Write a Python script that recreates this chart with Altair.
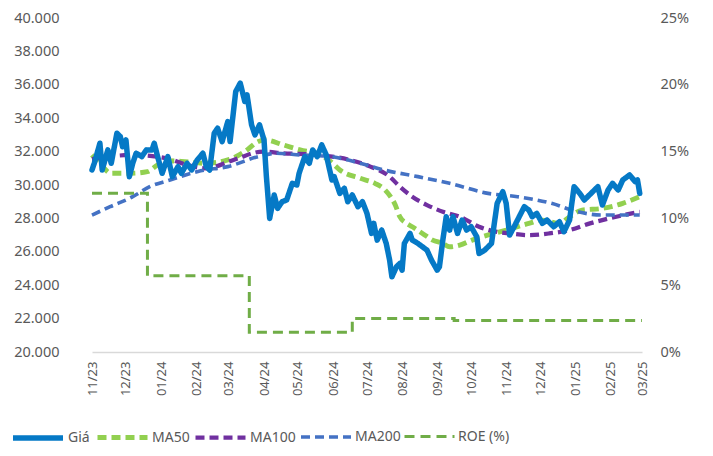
import altair as alt
import pandas as pd

# ---------------- data ----------------
price_dates = [
    "2023-11-01", "2023-11-03", "2023-11-08", "2023-11-10", "2023-11-15", "2023-11-18",
    "2023-11-23", "2023-11-26", "2023-11-28", "2023-12-01", "2023-12-04", "2023-12-07",
    "2023-12-10", "2023-12-15", "2023-12-19", "2023-12-24", "2023-12-26", "2023-12-29",
    "2024-01-02", "2024-01-07", "2024-01-11", "2024-01-16", "2024-01-19", "2024-01-24",
    "2024-01-28", "2024-02-02", "2024-02-07", "2024-02-10", "2024-02-13", "2024-02-17",
    "2024-02-20", "2024-02-24", "2024-02-29", "2024-03-02", "2024-03-07", "2024-03-11",
    "2024-03-15", "2024-03-17", "2024-03-21", "2024-03-24", "2024-03-28", "2024-04-01",
    "2024-04-03", "2024-04-06", "2024-04-10", "2024-04-13", "2024-04-17", "2024-04-21",
    "2024-04-26", "2024-04-30", "2024-05-02", "2024-05-07", "2024-05-11", "2024-05-14",
    "2024-05-18", "2024-05-22", "2024-05-26", "2024-05-31", "2024-06-02", "2024-06-07",
    "2024-06-11", "2024-06-14", "2024-06-18", "2024-06-23", "2024-06-27", "2024-07-01",
    "2024-07-05", "2024-07-07", "2024-07-10", "2024-07-14", "2024-07-18", "2024-07-21",
    "2024-07-23", "2024-07-27", "2024-07-30", "2024-08-01", "2024-08-03", "2024-08-08",
    "2024-08-10", "2024-08-15", "2024-08-19", "2024-08-23", "2024-08-27", "2024-09-01",
    "2024-09-03", "2024-09-06", "2024-09-09", "2024-09-12", "2024-09-15", "2024-09-19",
    "2024-09-23", "2024-09-27", "2024-10-01", "2024-10-06", "2024-10-08", "2024-10-13",
    "2024-10-19", "2024-10-24", "2024-10-29", "2024-11-01", "2024-11-04", "2024-11-08",
    "2024-11-11", "2024-11-17", "2024-11-21", "2024-11-24", "2024-11-28", "2024-12-03",
    "2024-12-07", "2024-12-13", "2024-12-18", "2024-12-22", "2024-12-27", "2024-12-31",
    "2025-01-05", "2025-01-09", "2025-01-15", "2025-01-21", "2025-01-25", "2025-01-30",
    "2025-02-03", "2025-02-08", "2025-02-12", "2025-02-18", "2025-02-23", "2025-02-25",
    "2025-02-27",
]
price_values = [
    30900, 31300, 32500, 30900, 32100, 31300,
    33100, 32900, 32300, 32700, 30500, 31300,
    31900, 31700, 32100, 32100, 32500, 31700,
    30700, 31700, 30500, 31100, 30700, 31300,
    30900, 31500, 31900, 31100, 30900, 33100,
    33400, 32600, 33800, 32600, 35600, 36100,
    35000, 35400, 33600, 33000, 33600, 32700,
    30600, 28000, 29400, 28600, 29000, 29100,
    30100, 30000, 30700, 31700, 31300, 32100,
    31700, 32400, 31800, 30300, 30500, 29500,
    29800, 29000, 29400, 28700, 29000, 28300,
    27100, 27700, 26700, 27300, 26500, 25500,
    24500, 25100, 25300, 24900, 26500, 27100,
    26700, 26500, 26300, 26100, 25500, 24900,
    25100, 26700, 28100, 27300, 28100, 27100,
    27900, 27300, 27500, 26900, 25900, 26100,
    26500, 28900, 29600, 28900, 27000, 27500,
    27900, 28700, 28500, 28100, 28300, 27700,
    27900, 27500, 27800, 27200, 27900, 29900,
    29500, 29100, 29500, 29900, 28800, 29700,
    30100, 29700, 30300, 30600, 30200, 30300,
    29500,
]

ma50_dates = [
    "2023-11-01", "2023-11-09", "2023-11-18", "2023-12-05", "2023-12-20", "2023-12-29",
    "2024-01-07", "2024-01-22", "2024-02-09", "2024-02-29", "2024-03-15", "2024-03-27",
    "2024-04-02", "2024-04-18", "2024-05-03", "2024-05-21", "2024-05-30", "2024-06-07",
    "2024-06-25", "2024-07-08", "2024-07-17", "2024-07-26", "2024-07-30", "2024-08-05",
    "2024-08-10", "2024-08-19", "2024-08-28", "2024-09-06", "2024-09-12", "2024-09-21",
    "2024-10-02", "2024-10-11", "2024-11-01", "2024-11-21", "2024-12-03", "2024-12-18",
    "2024-12-27", "2025-01-07", "2025-01-25", "2025-02-12", "2025-02-27",
]
ma50_values = [
    31800, 31200, 30700, 30700, 30800, 31200,
    31450, 31400, 31300, 31500, 32000, 32600,
    32700, 32400, 32100, 31800, 31400, 30900,
    30400, 30100, 29700, 28800, 28100, 27700,
    27500, 27100, 26700, 26500, 26300, 26400,
    26700, 26900, 27300, 27700, 27900, 27700,
    28100, 28500, 28600, 28900, 29300,
]

ma100_dates = [
    "2023-11-01", "2023-12-07", "2024-01-06", "2024-01-24", "2024-02-10", "2024-03-05",
    "2024-03-31", "2024-04-18", "2024-05-18", "2024-06-16", "2024-07-04", "2024-07-21",
    "2024-07-30", "2024-08-10", "2024-08-23", "2024-09-06", "2024-09-21", "2024-10-08",
    "2024-10-17", "2024-11-04", "2024-11-21", "2024-12-09", "2024-12-27", "2025-01-14",
    "2025-01-31", "2025-02-27",
]
ma100_values = [
    31550, 31800, 31600, 31200, 31000, 31500,
    32000, 31900, 31800, 31500, 31100, 30500,
    29900, 29300, 28800, 28400, 28100, 27500,
    27300, 27100, 27000, 27100, 27300, 27700,
    28000, 28400,
]

ma200_dates = [
    "2023-11-01", "2023-11-17", "2023-12-07", "2023-12-22", "2024-01-09", "2024-02-05",
    "2024-02-29", "2024-03-27", "2024-04-12", "2024-05-03", "2024-05-30", "2024-06-25",
    "2024-07-16", "2024-08-15", "2024-09-12", "2024-10-16", "2024-11-11", "2024-12-11",
    "2025-01-03", "2025-01-24", "2025-02-27",
]
ma200_values = [
    28200, 28700, 29300, 29900, 30300, 30850,
    31100, 31700, 31900, 31800, 31700, 31300,
    30900, 30500, 30100, 29500, 29300, 28900,
    28400, 28200, 28200,
]

roe_dates = ["2023-11-01", "2023-12-20", "2024-03-19", "2024-06-18", "2024-09-16", "2025-03-01"]
roe_values = [0.1188, 0.057, 0.0147, 0.025, 0.0235, 0.0235]

series_names = ["Giá", "MA50", "MA100", "MA200", "ROE (%)"]
series_colors = ["#0579C6", "#92D050", "#7030A0", "#4472C4", "#70AD47"]
series_dash = [[1, 0], [9, 5], [9, 5], [9, 5], [10, 6]]
series_width = [5.5, 3, 3, 3, 3.5]

month_ticks = [
    (2023, 11), (2023, 12), (2024, 1), (2024, 2), (2024, 3), (2024, 4), (2024, 5),
    (2024, 6), (2024, 7), (2024, 8), (2024, 9), (2024, 10), (2024, 11), (2024, 12),
    (2025, 1), (2025, 2), (2025, 3),
]
left_ticks = list(range(20000, 40001, 2000))
right_ticks = [0, 0.05, 0.10, 0.15, 0.20, 0.25]

# ---------------- tables ----------------
def frame(dates, values, name):
    return pd.DataFrame({"date": dates, "value": values, "series": name})

price_df = frame(price_dates, price_values, "Giá")
ma_df = pd.concat([
    frame(ma50_dates, ma50_values, "MA50"),
    frame(ma100_dates, ma100_values, "MA100"),
    frame(ma200_dates, ma200_values, "MA200"),
])
roe_df = frame(roe_dates, roe_values, "ROE (%)")

FONT = "Noto Sans"
GREY = "#595959"

tick_vals = [alt.DateTime(year=y, month=m, date=1, utc=True) for y, m in month_ticks]
x_enc = alt.X(
    "date:T",
    scale=alt.Scale(type="utc",
                    domain=[tick_vals[0], tick_vals[-1]]),
    axis=alt.Axis(values=tick_vals, format="%m/%y", labelAngle=270, title=None,
                  grid=False, ticks=False, domainColor="#D9D9D9", domainWidth=1.5,
                  labelFont=FONT, labelFontSize=13, labelColor=GREY, labelPadding=9,
                  labelOverlap=False, labelFlush=False),
)

color_enc = alt.Color("series:N", scale=alt.Scale(domain=series_names, range=series_colors),
                      title=None)
dash_enc = alt.StrokeDash("series:N", scale=alt.Scale(domain=series_names, range=series_dash),
                          title=None)
width_enc = alt.StrokeWidth("series:N", scale=alt.Scale(domain=series_names, range=series_width),
                            title=None)

left_axis = alt.Axis(values=left_ticks, title=None, grid=False, ticks=False, domain=False,
                     labelExpr="replace(format(datum.value, ','), ',', '.')",
                     labelFont=FONT, labelFontSize=14.5, labelColor=GREY, labelPadding=33)
left_scale = alt.Scale(domain=[20000, 40000], nice=False, zero=False)

price_layer = alt.Chart(price_df).mark_line(strokeJoin="round", strokeCap="round").encode(
    x=x_enc,
    y=alt.Y("value:Q", scale=left_scale, axis=left_axis),
    color=color_enc, strokeDash=dash_enc, strokeWidth=width_enc,
)
ma_layer = alt.Chart(ma_df).mark_line(interpolate="monotone").encode(
    x=x_enc,
    y=alt.Y("value:Q", scale=left_scale, axis=left_axis),
    color=color_enc, strokeDash=dash_enc, strokeWidth=width_enc,
    detail="series:N",
)
left = alt.layer(ma_layer, price_layer)

roe_layer = alt.Chart(roe_df).mark_line(interpolate="step-after").encode(
    x=x_enc,
    y=alt.Y("value:Q", scale=alt.Scale(domain=[0, 0.25], nice=False),
            axis=alt.Axis(values=right_ticks, format=".0%", orient="right", title=None,
                          grid=False, ticks=False, domain=False,
                          labelFont=FONT, labelFontSize=14.5, labelColor=GREY,
                          labelPadding=18)),
    color=color_enc, strokeDash=dash_enc, strokeWidth=width_enc,
)

chart = alt.layer(left, roe_layer).resolve_scale(y="independent").properties(
    width=550, height=334,
    autosize="none",
    padding={"left": 84, "top": 10, "right": 63, "bottom": 96},
).configure_view(stroke=None).configure_legend(
    orient="none", legendX=-82, legendY=392, direction="horizontal",
    gridAlign="none",
    symbolType="stroke", symbolSize=2500, labelFont=FONT, labelFontSize=14,
    labelColor=GREY, labelOffset=2, columnPadding=-3, padding=0,
)

chart.save("out.html", embed_options={"renderer": "svg", "actions": False})
